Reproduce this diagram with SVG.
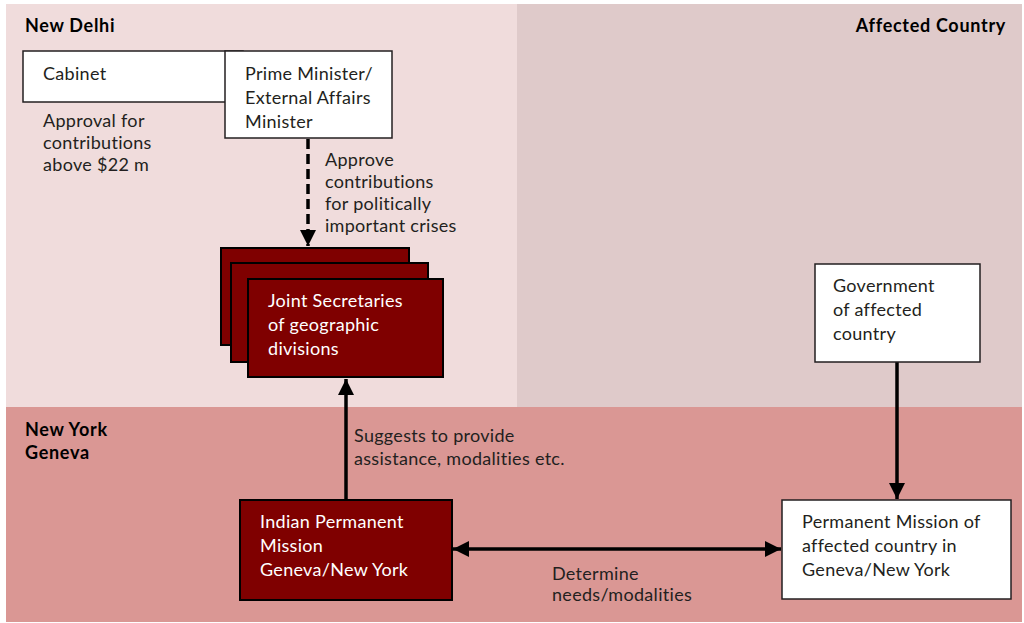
<svg xmlns="http://www.w3.org/2000/svg" width="1024" height="623" viewBox="0 0 1024 623">
<style>
.t{font-family:Lato,"Liberation Sans",sans-serif;font-size:18px;letter-spacing:0.3px;fill:#231f20}
.w{font-family:Lato,"Liberation Sans",sans-serif;font-size:18px;letter-spacing:0.3px;fill:#ffffff}
.h{font-family:Lato,"Liberation Sans",sans-serif;font-size:18px;letter-spacing:0.7px;font-weight:bold;fill:#000}
.wb{fill:#ffffff;stroke:#231f20;stroke-width:1.5}
.rb{fill:#7f0000;stroke:#000;stroke-width:2}
.c{stroke:#000;stroke-width:3.5;fill:none}
</style>
<defs>
<marker id="ah2" markerWidth="16" markerHeight="16" viewBox="0 0 10 10" refX="10" refY="5" orient="auto-start-reverse" markerUnits="userSpaceOnUse">
<path d="M0,0 L10,5 L0,10 Z" fill="#000"/>
</marker>
</defs>
<rect x="0" y="0" width="1024" height="623" fill="#ffffff"/>
<g id="regions">
<rect x="6" y="4" width="511" height="403" fill="#f0dcdc"/>
<rect x="517" y="4" width="505" height="403" fill="#dfcaca"/>
<rect x="6" y="407" width="1016" height="215" fill="#da9794"/>
<text class="h" x="25" y="32">New Delhi</text>
<text class="h" x="1006" y="32" text-anchor="end">Affected Country</text>
<text class="h" x="25" y="436">New York</text>
<text class="h" x="25" y="459">Geneva</text>
</g>
<g id="connectors">
<line class="c" x1="308" y1="139" x2="308" y2="246" stroke-dasharray="10,5" marker-end="url(#ah2)"/>
<line class="c" x1="346" y1="500" x2="346" y2="379" marker-end="url(#ah2)"/>
<line class="c" x1="897" y1="362" x2="897" y2="499" marker-end="url(#ah2)"/>
<line class="c" x1="453" y1="549" x2="781" y2="549" marker-start="url(#ah2)" marker-end="url(#ah2)"/>
<text class="t" x="325" y="166">Approve</text>
<text class="t" x="325" y="188">contributions</text>
<text class="t" x="325" y="210">for politically</text>
<text class="t" x="325" y="232">important crises</text>
<text class="t" x="354" y="442">Suggests to provide</text>
<text class="t" x="354" y="465">assistance, modalities etc.</text>
<text class="t" x="552" y="580">Determine</text>
<text class="t" x="552" y="601">needs/modalities</text>
</g>
<g id="cabinet">
<rect class="wb" x="23" y="51" width="220" height="51"/>
<text class="t" x="43" y="80">Cabinet</text>
<text class="t" x="43" y="127">Approval for</text>
<text class="t" x="43" y="149">contributions</text>
<text class="t" x="43" y="171">above $22 m</text>
</g>
<g id="pm">
<rect class="wb" x="225" y="51" width="167" height="87"/>
<text class="t" x="245" y="80">Prime Minister/</text>
<text class="t" x="245" y="104">External Affairs</text>
<text class="t" x="245" y="128">Minister</text>
</g>
<g id="joint-secretaries">
<rect class="rb" x="221" y="248" width="188" height="97"/>
<rect class="rb" x="231" y="263" width="197" height="99"/>
<rect class="rb" x="248" y="279" width="195" height="98"/>
<text class="w" x="268" y="307">Joint Secretaries</text>
<text class="w" x="268" y="331">of geographic</text>
<text class="w" x="268" y="355">divisions</text>
</g>
<g id="government">
<rect class="wb" x="815" y="264" width="165" height="98"/>
<text class="t" x="833" y="292">Government</text>
<text class="t" x="833" y="316">of affected</text>
<text class="t" x="833" y="340">country</text>
</g>
<g id="indian-mission">
<rect class="rb" x="240" y="500" width="212" height="100"/>
<text class="w" x="260" y="528">Indian Permanent</text>
<text class="w" x="260" y="552">Mission</text>
<text class="w" x="260" y="576">Geneva/New York</text>
</g>
<g id="affected-mission">
<rect class="wb" x="782" y="500" width="229" height="99"/>
<text class="t" x="802" y="528">Permanent Mission of</text>
<text class="t" x="802" y="552">affected country in</text>
<text class="t" x="802" y="576">Geneva/New York</text>
</g>
</svg>
